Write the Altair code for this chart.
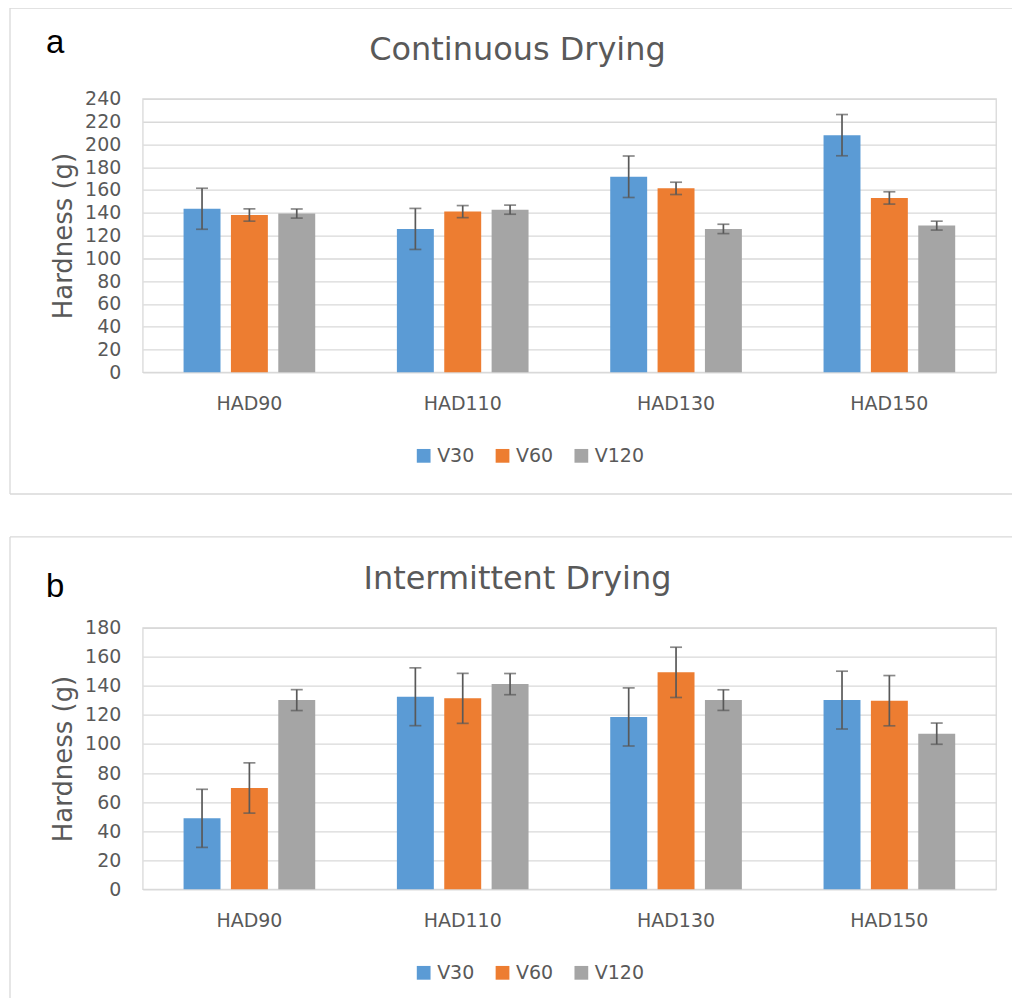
import altair as alt
import pandas as pd

categories = ["HAD90", "HAD110", "HAD130", "HAD150"]
series = ["V30", "V60", "V120"]
colors = ["#5B9BD5", "#ED7D31", "#A5A5A5"]

# Panel a: Continuous Drying
cont_v30 = [143.5, 125.8, 171.6, 208.1]
cont_v60 = [138.0, 141.0, 161.4, 153.0]
cont_v120 = [139.3, 142.7, 125.8, 128.7]
cont_err_v30 = [18.0, 18.0, 18.2, 18.1]
cont_err_v60 = [5.4, 5.3, 5.4, 5.4]
cont_err_v120 = [4.0, 4.0, 4.1, 3.9]

# Panel b: Intermittent Drying
int_v30 = [48.8, 132.5, 118.6, 130.2]
int_v60 = [69.7, 131.4, 149.3, 129.8]
int_v120 = [130.2, 141.2, 130.2, 107.1]
int_err_v30 = [20.0, 19.9, 20.0, 19.9]
int_err_v60 = [17.3, 17.2, 17.3, 17.3]
int_err_v120 = [7.2, 7.3, 7.1, 7.3]

GRID = "#D9D9D9"
TXT = "#595959"
FONT = "DejaVu Sans"
PLOT_W = 855


def build_df(vals, errs):
    rows = []
    for s, vs, es in zip(series, vals, errs):
        for c, v, e in zip(categories, vs, es):
            rows.append({"cat": c, "series": s, "value": v, "lo": v - e, "hi": v + e})
    return pd.DataFrame(rows)


def one_row():
    return alt.Data(values=[{}])


def panel(title, letter, vals, errs, ymax, h, letter_y, frame_bottom, closed, legend_y):
    df = build_df(vals, errs)
    base = alt.Chart(df)
    xscale = alt.Scale(paddingInner=0.334, paddingOuter=0.167)
    xaxis = alt.Axis(title=None, labelAngle=0, grid=False)
    xenc = alt.X("cat:N", sort=categories, scale=xscale, axis=xaxis)
    xoff = alt.XOffset("series:N", sort=series,
                       scale=alt.Scale(paddingInner=0.22, paddingOuter=0.11))
    yscale = alt.Scale(domain=[0, ymax], nice=False, zero=True)
    yaxis = alt.Axis(values=list(range(0, ymax + 1, 20)), title="Hardness (g)", grid=True)
    bars = base.mark_bar().encode(
        x=xenc,
        xOffset=xoff,
        y=alt.Y("value:Q", scale=yscale, axis=yaxis),
        color=alt.Color(
            "series:N",
            sort=series,
            scale=alt.Scale(domain=series, range=colors),
            legend=alt.Legend(
                title=None, orient="none", direction="horizontal",
                legendX=272, legendY=legend_y, symbolType="square", symbolSize=190,
                symbolStrokeWidth=0, labelFontSize=19, labelColor=TXT, labelFont=FONT,
                labelOffset=4, columnPadding=18, padding=0,
            ),
        ),
    )
    err = base.mark_rule(color=TXT, strokeWidth=1.7).encode(
        x=xenc, xOffset=xoff,
        y=alt.Y("lo:Q", scale=yscale, axis=yaxis), y2="hi:Q",
    )
    cap_lo = base.mark_tick(color=TXT, size=12, thickness=1.7).encode(
        x=xenc, xOffset=xoff, y=alt.Y("lo:Q", scale=yscale, axis=yaxis),
    )
    cap_hi = base.mark_tick(color=TXT, size=12, thickness=1.7).encode(
        x=xenc, xOffset=xoff, y=alt.Y("hi:Q", scale=yscale, axis=yaxis),
    )
    ttl = alt.Chart(one_row()).mark_text(
        fontSize=32, font=FONT, color=TXT, align="center", baseline="alphabetic"
    ).encode(x=alt.value(375.5), y=alt.value(-39), text=alt.value(title))
    let = alt.Chart(one_row()).mark_text(
        fontSize=33, font="Liberation Sans", color="#000000", align="left",
        baseline="alphabetic"
    ).encode(x=alt.value(-97), y=alt.value(letter_y), text=alt.value(letter))
    fx0, fx1, fy0 = -133, 871, -91
    frame_top = alt.Chart(one_row()).mark_rule(color=GRID, strokeWidth=1.3).encode(
        x=alt.value(fx0), x2=alt.value(fx1), y=alt.value(fy0))
    frame_left = alt.Chart(one_row()).mark_rule(color=GRID, strokeWidth=1.3).encode(
        x=alt.value(fx0), y=alt.value(fy0), y2=alt.value(frame_bottom))
    layers = [frame_top, frame_left]
    if closed:
        layers.append(alt.Chart(one_row()).mark_rule(color=GRID, strokeWidth=1.3).encode(
            x=alt.value(fx0), x2=alt.value(fx1), y=alt.value(frame_bottom)))
    layers += [bars, err, cap_lo, cap_hi, ttl, let]
    return alt.layer(*layers).properties(width=PLOT_W, height=h)


pa = panel("Continuous Drying", "a",
           [cont_v30, cont_v60, cont_v120],
           [cont_err_v30, cont_err_v60, cont_err_v120],
           240, 274, -46, 396, True, 348)
pb = panel("Intermittent Drying", "b",
           [int_v30, int_v60, int_v120],
           [int_err_v30, int_err_v60, int_err_v120],
           180, 262, -31, 371, False, 336)

chart = (
    alt.vconcat(pa, pb, spacing=39)
    .resolve_scale(color="independent", y="independent", x="independent")
    .resolve_legend(color="independent")
    .properties(padding={"left": 0, "top": -3, "right": 0, "bottom": 0},
                background="white")
    .configure_view(stroke=GRID, strokeWidth=1.3)
    .configure_axis(
        ticks=False, domain=False, gridColor=GRID, gridWidth=1.3,
        labelFontSize=19, labelColor=TXT, labelFont=FONT, labelPadding=22,
        labelOverlap=False, labelBound=False, labelFlush=False,
        titleFontSize=26, titleColor=TXT, titleFont=FONT,
        titleFontWeight="normal", titlePadding=8,
    )
)

chart.save("out.html", embed_options={"renderer": "svg", "actions": False})
